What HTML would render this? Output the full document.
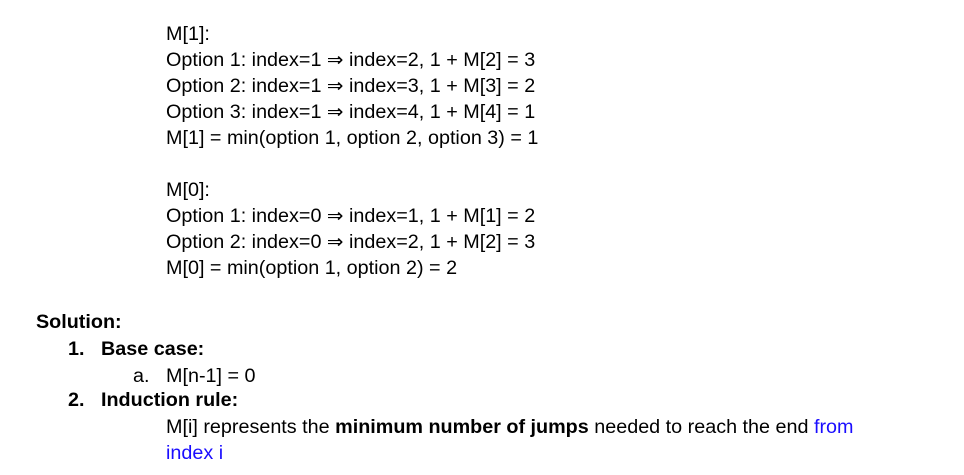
<!DOCTYPE html>
<html><head><meta charset="utf-8"><style>
html,body{margin:0;padding:0;background:#fff;width:964px;height:475px;overflow:hidden}
body{position:relative;font-family:"Liberation Sans",Arial,sans-serif;font-size:19px;color:#000}
.l{position:absolute;white-space:nowrap;line-height:22px;height:22px;transform:scaleX(1.04);transform-origin:0 50%}
b{font-weight:bold}
.blue{color:#1a0dff}
</style></head><body>
<div class="l" style="left:166px;top:24px">M[1]:</div>
<div class="l" style="left:166px;top:50px">Option 1: index=1 ⇒ index=2, 1 + M[2] = 3</div>
<div class="l" style="left:166px;top:76px">Option 2: index=1 ⇒ index=3, 1 + M[3] = 2</div>
<div class="l" style="left:166px;top:102px">Option 3: index=1 ⇒ index=4, 1 + M[4] = 1</div>
<div class="l" style="left:166px;top:128px">M[1] = min(option 1, option 2, option 3) = 1</div>
<div class="l" style="left:166px;top:180px">M[0]:</div>
<div class="l" style="left:166px;top:206px">Option 1: index=0 ⇒ index=1, 1 + M[1] = 2</div>
<div class="l" style="left:166px;top:232px">Option 2: index=0 ⇒ index=2, 1 + M[2] = 3</div>
<div class="l" style="left:166px;top:258px">M[0] = min(option 1, option 2) = 2</div>
<div class="l" style="left:36px;top:312px"><b>Solution:</b></div>
<div class="l" style="left:68px;top:339px"><b>1.</b></div>
<div class="l" style="left:101px;top:339px"><b>Base case:</b></div>
<div class="l" style="left:133px;top:366px">a.</div>
<div class="l" style="left:166px;top:366px">M[n-1] = 0</div>
<div class="l" style="left:68px;top:390px"><b>2.</b></div>
<div class="l" style="left:101px;top:390px"><b>Induction rule:</b></div>
<div class="l" style="left:166px;top:417px">M[i] represents the <b>minimum number of jumps</b> needed to reach the end <span class="blue">from</span></div>
<div class="l blue" style="left:166px;top:443px">index i</div>
</body></html>
